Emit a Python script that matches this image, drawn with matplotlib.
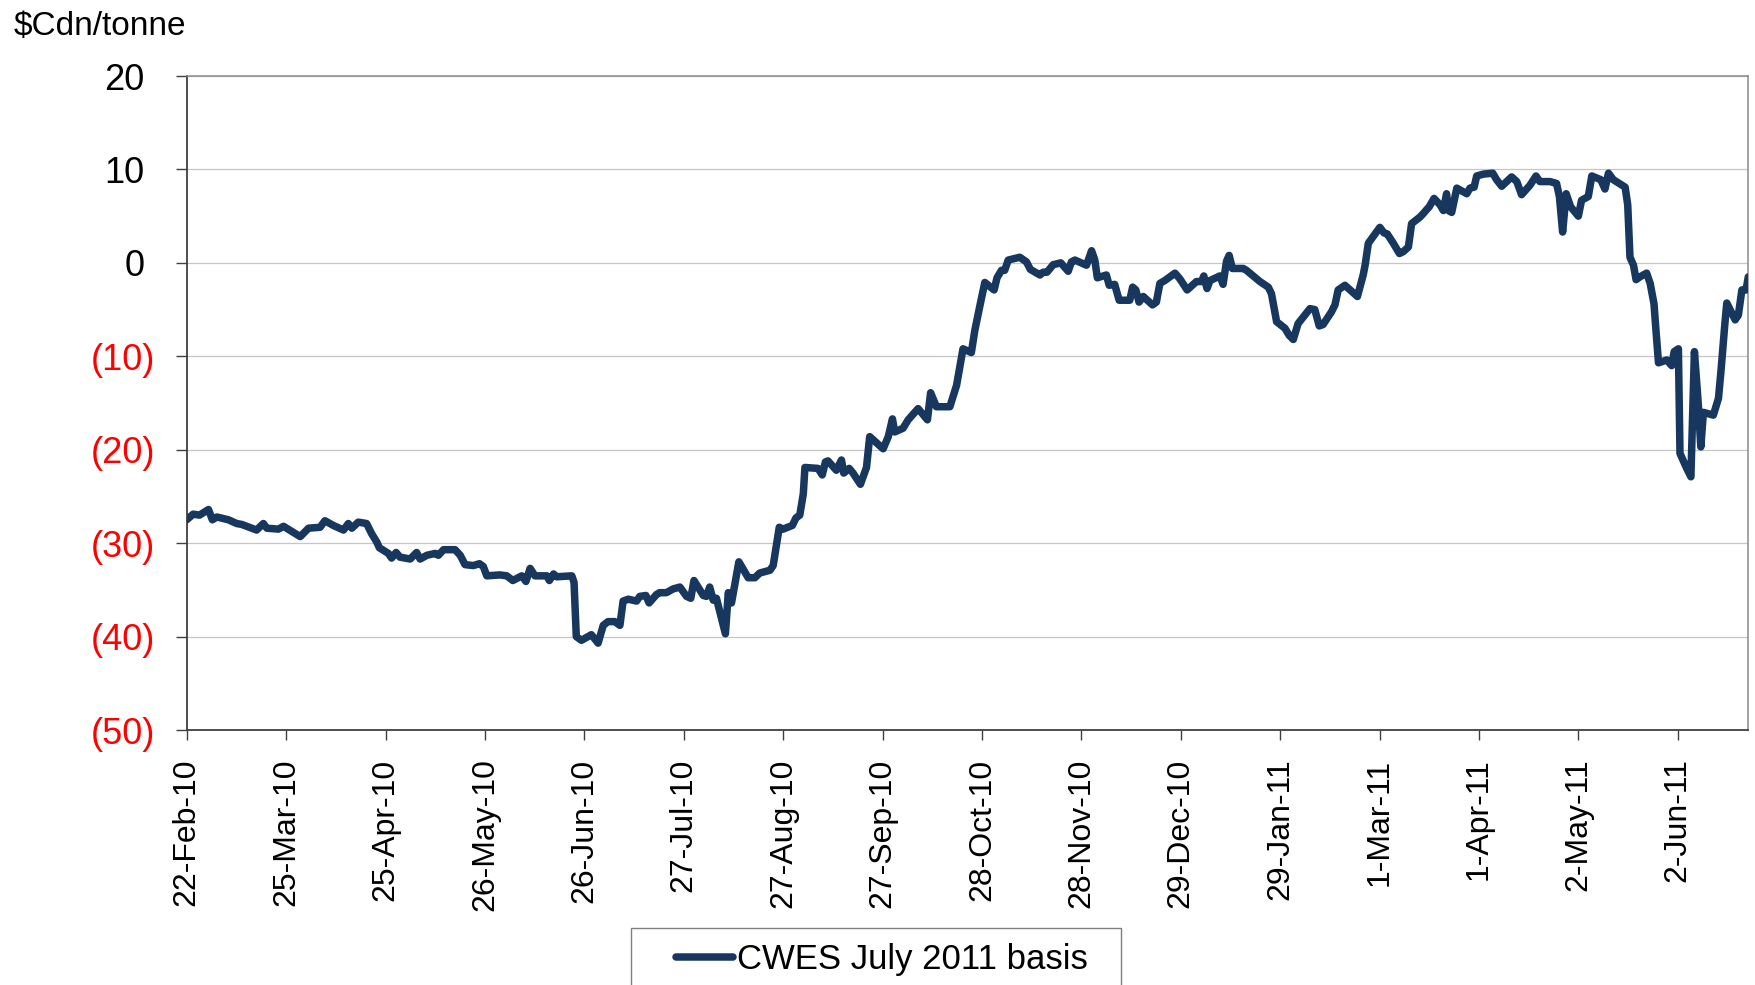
import datetime as dt
import matplotlib
matplotlib.use("Agg")
import matplotlib.pyplot as plt
import matplotlib.dates as mdates
from matplotlib.transforms import ScaledTranslation
from matplotlib.patches import Rectangle
from matplotlib.ticker import FixedLocator, FixedFormatter

# ---------------- data ----------------
start_date = "22-Feb-10"
series_name = "CWES July 2011 basis"
y_unit = "$Cdn/tonne"

# days after start_date
day_offsets = [
    0, 2, 4, 6.8, 8, 9.4, 13, 15.6, 17.2, 21.8, 23.9, 25, 28.6, 30.2, 35.4, 38,
    41.6, 43.1, 45.7, 48.9, 50.4, 51.5, 53.5, 56.1, 57.7, 59.3, 60.1, 62.9, 63.9,
    65.3, 66.5, 69.7, 71.7, 72.8, 74.9, 77.5, 78.5, 80.1, 83.7, 85.3, 86.8, 89.4,
    91.3, 92.5, 93.6, 97.7, 99.8, 101.7, 104.5, 105.8, 107.1, 108.6, 112.3, 113.1,
    114.4, 115.4, 120.1, 120.8,
    121.5, 123.1, 126.2, 128.3, 129.9, 131.4, 133.5, 135.1, 136.1, 137.7, 140.3,
    141.3, 143.2, 144.2, 146.5, 147.5, 149.6, 151.7, 153.8, 155.9, 157.2, 158.2,
    161.1, 162.1, 163.1, 164.2, 165.2, 168.0, 168.9, 169.9, 172.2, 175.1, 177.2,
    178.7, 181.9, 182.9, 184.8, 186.0, 188.9, 190.0, 191.2, 192.3, 192.8, 196.9,
    198.2, 199.2, 200.0, 202.6, 204.2, 204.9, 206.6, 207.8, 210.1, 212.0, 213.0,
    217.2, 218.8, 220.1, 220.8, 223.4, 225.0, 228.1, 231.0, 232.0, 233.8, 238.0,
    240.1,
    242.1, 244.7, 245.8, 247.3, 248.9, 251.8, 252.7, 254.1, 255.1, 256.2, 259.8,
    261.9, 263.1, 266.1, 267.1, 268.3, 270.2, 272.6, 274.9, 275.9, 277.0, 280.6,
    282.2, 283.2, 284.0, 286.8, 287.7, 289.4, 290.8, 294.1, 295.0, 296.0, 297.0,
    298.3, 301.2, 302.4, 303.5, 305.0, 308.2, 309.7, 312.0, 314.9, 316.5, 317.2,
    318.2, 319.1, 322.2, 323.2, 324.3, 325.1, 326.1, 329.5, 330.5, 334.7, 337.3,
    338.3, 339.9, 342.5, 343.8, 345.1, 346.6, 350.3, 351.8, 353.2, 354.4, 357.0,
    358.1, 359.1, 361.2, 365.1,
    366.9, 367.5, 368.5, 372.1, 373.4, 374.4, 376.3, 378.2, 379.4, 381.0, 382.0,
    384.6, 385.7, 386.7, 387.5, 389.0, 390.9, 391.9, 392.9, 393.5, 394.5, 396.1,
    399.2, 400.2, 401.5, 402.3, 404.4, 407.3, 408.5, 410.1, 413.2, 414.8, 416.3,
    418.9, 420.8, 422.0, 425.2, 427.2, 428.1, 429.1, 430.2, 431.6, 434.0, 435.0,
    437.1, 438.2, 441.0, 442.3, 443.4, 444.9, 448.6, 449.4, 450.1, 451.2, 452.0,
    453.2, 455.3, 456.4, 457.6, 458.2, 459.0, 461.6, 463.1, 463.9, 465.2, 465.7,
    467.8, 469.1, 470.2, 471.4, 472.2, 473.0, 476.1, 477.7, 478.5, 479.7, 480.3,
    482.9, 483.9, 485.0, 486.3, 487.0,
]

basis_values = [
    -27.5, -26.9, -27.0, -26.4, -27.5, -27.2, -27.5, -27.9, -28.0, -28.6, -27.9,
    -28.4, -28.5, -28.2, -29.3, -28.4, -28.3, -27.6, -28.1, -28.6, -27.9, -28.4,
    -27.75, -27.9, -29.0, -29.9, -30.5, -31.1, -31.6, -31.0, -31.5, -31.7, -31.0,
    -31.7, -31.3, -31.1, -31.3, -30.7, -30.7, -31.3, -32.3, -32.4, -32.2, -32.5,
    -33.5, -33.4, -33.5, -34.0, -33.5, -34.1, -32.7, -33.5, -33.5, -34.0, -33.3,
    -33.6, -33.5, -34.2,
    -40.0, -40.4, -39.8, -40.7, -38.8, -38.4, -38.4, -38.8, -36.2, -36.0, -36.2,
    -35.7, -35.6, -36.4, -35.5, -35.3, -35.3, -34.9, -34.7, -35.7, -35.9, -34.0,
    -35.6, -35.7, -34.7, -36.1, -35.9, -39.7, -35.3, -36.4, -32.0, -33.7, -33.7,
    -33.2, -32.9, -32.4, -28.3, -28.5, -28.1, -27.3, -27.0, -24.7, -21.9, -22.0,
    -22.7, -21.3, -21.2, -22.2, -21.1, -22.5, -22.0, -22.5, -23.7, -21.9, -18.6,
    -19.9, -18.6, -16.7, -18.1, -17.7, -16.8, -15.6, -16.8, -13.9, -15.4, -15.4,
    -13.1,
    -9.2, -9.6, -7.2, -4.7, -2.1, -2.9, -1.6, -0.8, -0.8, 0.3, 0.6,
    0.1, -0.7, -1.3, -1.0, -1.0, -0.2, 0.0, -0.9, 0.1, 0.3, -0.25,
    1.3, 0.3, -1.6, -1.3, -2.4, -2.3, -4.0, -4.0, -2.6, -2.9, -4.2,
    -3.6, -4.5, -4.2, -2.2, -1.9, -1.1, -1.7, -2.9, -2.0, -2.0, -1.4,
    -2.75, -1.9, -1.4, -2.3, 0.2, 0.8, -0.6, -0.6, -0.8, -2.0, -2.6,
    -3.3, -6.3, -7.0, -7.75, -8.2, -6.5, -4.9, -5.0, -6.75, -6.6, -5.25,
    -4.5, -2.9, -2.4, -3.6,
    -1.3, -0.25, 2.1, 3.8, 3.2, 3.1, 2.1, 1.0, 1.2, 1.7, 4.2,
    4.9, 5.3, 5.7, 6.0, 6.9, 6.2, 5.6, 7.4, 5.6, 5.4, 8.0,
    7.4, 8.0, 8.1, 9.3, 9.5, 9.6, 8.9, 8.2, 9.2, 8.7, 7.3,
    8.3, 9.3, 8.7, 8.7, 8.5, 7.1, 3.3, 7.4, 6.0, 5.0, 6.7,
    7.1, 9.3, 8.9, 7.9, 9.6, 8.9, 8.1, 6.2, 0.6, -0.25, -1.8,
    -1.5, -1.1, -2.2, -4.4, -7.2, -10.7, -10.4, -11.0, -9.5, -9.2, -20.4,
    -22.0, -22.9, -9.5, -15.1, -19.7, -16.0, -16.3, -14.5, -11.5, -6.5, -4.3,
    -6.1, -5.6, -2.9, -2.9, -1.5,
]

tick_labels = [
    "22-Feb-10", "25-Mar-10", "25-Apr-10", "26-May-10", "26-Jun-10", "27-Jul-10",
    "27-Aug-10", "27-Sep-10", "28-Oct-10", "28-Nov-10", "29-Dec-10", "29-Jan-11",
    "1-Mar-11", "1-Apr-11", "2-May-11", "2-Jun-11",
]
x_span_days = 487
y_ticks = [-50, -40, -30, -20, -10, 0, 10, 20]

# ---------------- drawing ----------------
plt.rcParams["font.family"] = ["Liberation Sans", "DejaVu Sans"]

LINE_COLOR = "#17375E"
DARK = "#404040"

fig = plt.figure(figsize=(17.56, 9.85), dpi=100)
ax = fig.add_axes([0.10632, 0.25888, 0.88929, 0.66396])

t0 = mdates.date2num(dt.datetime.strptime(start_date, "%d-%b-%y"))
xs = [t0 + d for d in day_offsets]

line, = ax.plot(xs, basis_values, color=LINE_COLOR, lw=5.4,
                solid_joinstyle="round", solid_capstyle="round",
                label=series_name, zorder=3)

ax.set_xlim(t0, t0 + x_span_days)
ax.set_ylim(min(y_ticks), max(y_ticks))

tick_pos = [mdates.date2num(dt.datetime.strptime(s, "%d-%b-%y")) for s in tick_labels]
ax.xaxis.set_major_locator(FixedLocator(tick_pos))
ax.xaxis.set_major_formatter(FixedFormatter(tick_labels))

ylabels = [f"({abs(v)})" if v < 0 else f"{v}" for v in y_ticks]
ax.yaxis.set_major_locator(FixedLocator(y_ticks))
ax.yaxis.set_major_formatter(FixedFormatter(ylabels))

ax.yaxis.grid(True, color="#c6c6c6", lw=0.9)
ax.xaxis.grid(False)
ax.set_axisbelow(True)

for side in ("left", "bottom"):
    ax.spines[side].set_color(DARK)
    ax.spines[side].set_linewidth(1.3)
for side in ("top", "right"):
    ax.spines[side].set_color("#8a8a8a")
    ax.spines[side].set_linewidth(1.1)

ax.tick_params(axis="y", direction="out", length=8, width=1.0, color=DARK,
               pad=15, labelsize=26)
ax.tick_params(axis="x", direction="out", length=7, width=1.0, color=DARK,
               pad=13.5, labelsize=23, labelrotation=90)

for lab in ax.get_xticklabels():
    lab.set_family(["Liberation Sans Narrow", "Liberation Sans"])

shift = ScaledTranslation(-10 / 100, 0, fig.dpi_scale_trans)
for v, tick in zip(y_ticks, ax.yaxis.get_major_ticks(len(y_ticks))):
    lab = tick.label1
    if v < 0:
        lab.set_color("#ff0000")
    else:
        lab.set_color("black")
        lab.set_transform(lab.get_transform() + shift)

fig.text(14 / 1756, 1 - 35 / 985, y_unit, fontsize=24, ha="left",
         va="baseline", parse_math=False)

# legend box (extends past the bottom edge, like the reference)
rect = Rectangle((631 / 1756, -0.02), 490 / 1756, (1 - 928 / 985) + 0.02,
                 transform=fig.transFigure, facecolor="white",
                 edgecolor="#7f7f7f", lw=1.0, zorder=1)
fig.add_artist(rect)
leg = fig.legend(handles=[line], labels=[series_name], loc="center left",
                 bbox_to_anchor=(676 / 1756, 1 - 960 / 985), frameon=False,
                 fontsize=25, handlelength=1.65, handletextpad=0.12,
                 borderpad=0, borderaxespad=0)
leg.set_zorder(2)

fig.savefig("out.png", dpi=100)
